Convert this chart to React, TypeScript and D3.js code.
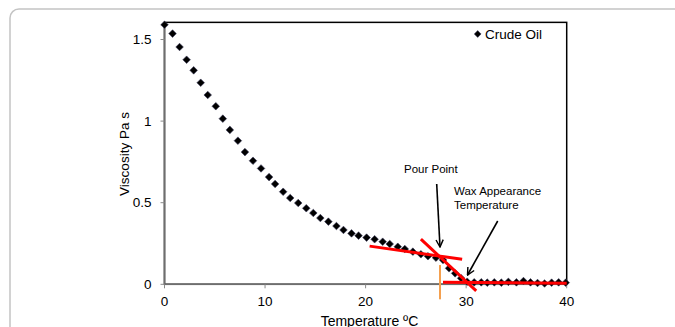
import React from "react";
import * as d3 from "d3";

const temperature = [
  0, 0.8, 1.5, 2.2, 2.9, 3.6, 4.3, 5.1, 5.8, 6.5, 7.3, 8.0, 8.8, 9.6, 10.4, 11.0, 11.8, 12.5, 13.3, 14.1,
  14.8, 15.5, 16.3, 17.1, 17.8, 18.6, 19.3, 20.1, 20.9, 21.7, 22.4, 23.2, 23.9, 24.7, 25.5, 26.2, 27.0,
  27.7, 28.3, 28.9, 29.5, 30.1, 30.8, 31.5, 32.1, 32.8, 33.5, 34.2, 35.0, 35.7, 36.4, 37.1, 37.8, 38.5,
  39.2, 39.9,
];
const viscosity = [
  1.59, 1.536, 1.454, 1.376, 1.311, 1.235, 1.16, 1.091, 1.015, 0.946, 0.88, 0.81, 0.757, 0.71, 0.657,
  0.615, 0.567, 0.529, 0.498, 0.466, 0.437, 0.406, 0.384, 0.357, 0.333, 0.312, 0.298, 0.286, 0.276,
  0.261, 0.247, 0.23, 0.216, 0.2, 0.184, 0.172, 0.163, 0.149, 0.098, 0.067, 0.037, 0.016, 0.012, 0.012,
  0.01, 0.012, 0.01, 0.015, 0.012, 0.02, 0.012, 0.008, 0.005, 0.01, 0.012, 0.01,
];
const xTicks = [0, 10, 20, 30, 40];
const yTicks = [0, 0.5, 1, 1.5];
const yTickLabels = ["0", "0.5", "1", "1.5"];

// annotation lines in data units
const redLines = [
  [[20.4, 0.234], [29.6, 0.153]],
  [[25.5, 0.277], [31.0, -0.04]],
  [[27.7, 0.012], [40, 0.006]],
];
const orangeLine = [[27.4, 0.118], [27.4, -0.092]];

export default function App() {
  const W = 675, H = 327;
  const x = d3.scaleLinear().domain([0, 40]).range([164.5, 566.7]);
  const y = d3.scaleLinear().domain([0, 1.5]).range([284.3, 39.5]);
  const yTop = y(1.605);
  const font = "'Liberation Sans', Arial, sans-serif";
  const r = 3.8;
  const diamond = (cx: number, cy: number) =>
    `M${cx},${cy - r}L${cx + r},${cy}L${cx},${cy + r}L${cx - r},${cy}Z`;

  return (
    <svg width={W} height={H} style={{ position: "absolute", left: 0, top: 0 }} fontFamily={font}>
      <defs>
        <marker id="ah" viewBox="0 0 10 10" refX="9" refY="5" markerWidth="9" markerHeight="9" orient="auto" markerUnits="userSpaceOnUse">
          <path d="M1,1L9,5L1,9" fill="none" stroke="#000" strokeWidth="1.6" />
        </marker>
      </defs>
      <rect x={10} y={9} width={720} height={400} rx={9} fill="#fff" stroke="#c4c4c4" strokeWidth={1.5} />
      {/* plot frame */}
      <rect x={x(0)} y={yTop} width={x(40) - x(0)} height={y(0) - yTop} fill="none" stroke="#000" strokeWidth={1.5} />
      <line x1={x(0)} x2={x(0)} y1={yTop} y2={y(0)} stroke="#6e6e6e" strokeWidth={1.6} />
      <line x1={x(0)} x2={x(40)} y1={y(0)} y2={y(0)} stroke="#6e6e6e" strokeWidth={1.6} />
      {yTicks.map((t, i) => (
        <g key={"y" + t}>
          <line x1={x(0) - 4} x2={x(0)} y1={y(t)} y2={y(t)} stroke="#8a8a8a" strokeWidth={1} />
          <text x={x(0) - 13} y={y(t)} dy="0.35em" textAnchor="end" fontSize={13.5} fill="#000">{yTickLabels[i]}</text>
        </g>
      ))}
      {xTicks.map((t) => (
        <g key={"x" + t}>
          <line x1={x(t)} x2={x(t)} y1={y(0)} y2={y(0) + 4} stroke="#8a8a8a" strokeWidth={1} />
          <text x={x(t)} y={y(0) + 17} dy="0.35em" textAnchor="middle" fontSize={13.5} fill="#000">{t}</text>
        </g>
      ))}
      <text x={369.5} y={325.5} textAnchor="middle" fontSize={14} fill="#000">Temperature ºC</text>
      <text transform={`translate(124,154) rotate(-90)`} textAnchor="middle" dy="0.35em" fontSize={13.5} fill="#000">Viscosity Pa s</text>
      {/* data */}
      {temperature.map((t, i) => (
        <path key={i} d={diamond(x(t), y(viscosity[i]))} fill="#000" stroke="#3a3a5a" strokeWidth={0.6} />
      ))}
      {/* annotations */}
      {redLines.map((l, i) => (
        <line key={"r" + i} x1={x(l[0][0])} y1={y(l[0][1])} x2={x(l[1][0])} y2={y(l[1][1])} stroke="#ff0000" strokeWidth={3} />
      ))}
      <line x1={x(orangeLine[0][0])} y1={y(orangeLine[0][1])} x2={x(orangeLine[1][0])} y2={y(orangeLine[1][1])} stroke="#f4a04f" strokeWidth={2} />
      <line x1={436.7} y1={184} x2={440} y2={247} stroke="#000" strokeWidth={1.6} markerEnd="url(#ah)" />
      <line x1={497.7} y1={221} x2={467.5} y2={275} stroke="#000" strokeWidth={1.6} markerEnd="url(#ah)" />
      <text x={404} y={169} dy="0.35em" fontSize={11.5} fill="#000">Pour Point</text>
      <text x={454} y={191} dy="0.35em" fontSize={11.5} fill="#000">Wax Appearance</text>
      <text x={454} y={204.5} dy="0.35em" fontSize={11.5} fill="#000">Temperature</text>
      {/* legend */}
      <path d={`M477.7,${34 - 3.4}L${477.7 + 3.4},34L477.7,${34 + 3.4}L${477.7 - 3.4},34Z`} fill="#000" stroke="#3a3a5a" strokeWidth={0.6} />
      <text x={485} y={34} dy="0.35em" fontSize={13.5} fill="#000">Crude Oil</text>
    </svg>
  );
}
